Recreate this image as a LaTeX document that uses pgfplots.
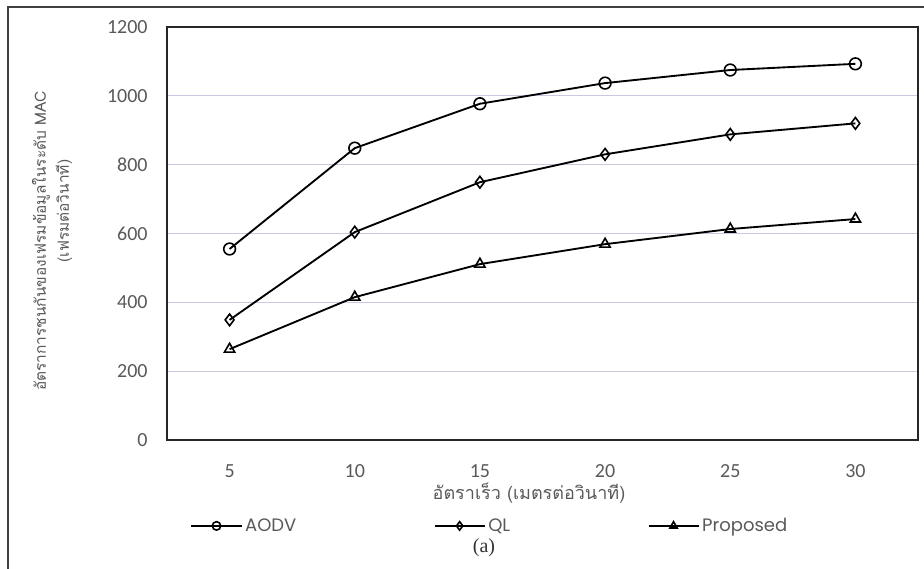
\documentclass[border=0pt]{standalone}
\usepackage{fontspec}
\setmainfont{Carlito}
\newfontfamily\thaifont[Script=Thai]{Loma}
\newfontfamily\serifx{Liberation Serif}
\newfontfamily\legfont{Poppins}
\usepackage{pgfplots}
\pgfplotsset{compat=1.18}
\definecolor{txt}{HTML}{595959}
\definecolor{gridc}{HTML}{CBC8E2}

\pgfplotstableread{
x aodv ql prop
5 555 349 264
10 848 604 415
15 977 749 511
20 1037 830 569
25 1075 888 613
30 1093 920 642
}\datatab

\begin{document}
\begin{tikzpicture}[x=1pt,y=1pt]
\useasboundingbox (0,0) rectangle (693,426);
\draw[line width=0.9pt, black!75] (6,-1) -- (6,420.75) -- (694,420.75);
\begin{axis}[
  at={(125.25pt,96pt)}, anchor=south west,
  width=563.25pt, height=309.75pt, scale only axis,
  xmin=2.5, xmax=32.5, ymin=0, ymax=1200,
  xtick={5,10,15,20,25,30}, ytick={0,200,400,600,800,1000,1200},
  major tick length=0pt,
  ymajorgrids, grid style={gridc, line width=0.8pt},
  axis line style={line width=1.2pt, black!85},
  tick label style={font=\fontsize{15}{17}\selectfont, text=txt},
  /pgf/number format/assume math mode=true,
  /pgf/number format/1000 sep={},
  yticklabel style={xshift=-11pt},
  xticklabel style={yshift=-15pt},
  legend columns=3,
  legend style={at={(0.031,-0.208)}, anchor=west, draw=none, fill=none, inner sep=0pt,
    font=\legfont\fontsize{13.5}{16}\selectfont, text=txt,
    /tikz/every even column/.append style={column sep=101pt}},
  legend image code/.code={\draw[mark repeat=2,mark phase=2,every mark/.append style={scale=0.72}] plot coordinates {(0cm,0cm) (0.66cm,0cm) (1.32cm,0cm)};},
  every axis plot/.append style={line width=1.4pt, black, mark options={fill=white, line width=1.2pt, solid}},
]
\addplot[mark=o, mark size=4.4pt] table[x=x, y=aodv] {\datatab};
\addlegendentry{AODV}
\addplot[mark=diamond, mark size=4.4pt] table[x=x, y=ql] {\datatab};
\addlegendentry{QL}
\addplot[mark=triangle, mark size=4.4pt] table[x=x, y=prop] {\datatab};
\addlegendentry{Proposed}
\end{axis}
\node[text=txt, font=\thaifont\fontsize{13.5}{15}\selectfont] at (396.75,56.25) {อัตราเร็ว (เมตรต่อวินาที)};
\node[rotate=90, text=txt, font=\thaifont\fontsize{11.6}{14}\selectfont] at (30.75,245.25) {อัตราการชนกันของเฟรมข้อมูลในระดับ MAC};
\node[rotate=90, text=txt, font=\thaifont\fontsize{11.6}{14}\selectfont] at (48,267.75) {(เฟรมต่อวินาที)};
\node[font=\serifx\fontsize{15}{17}\selectfont, text=black!80] at (363,15) {(a)};
\end{tikzpicture}
\end{document}
